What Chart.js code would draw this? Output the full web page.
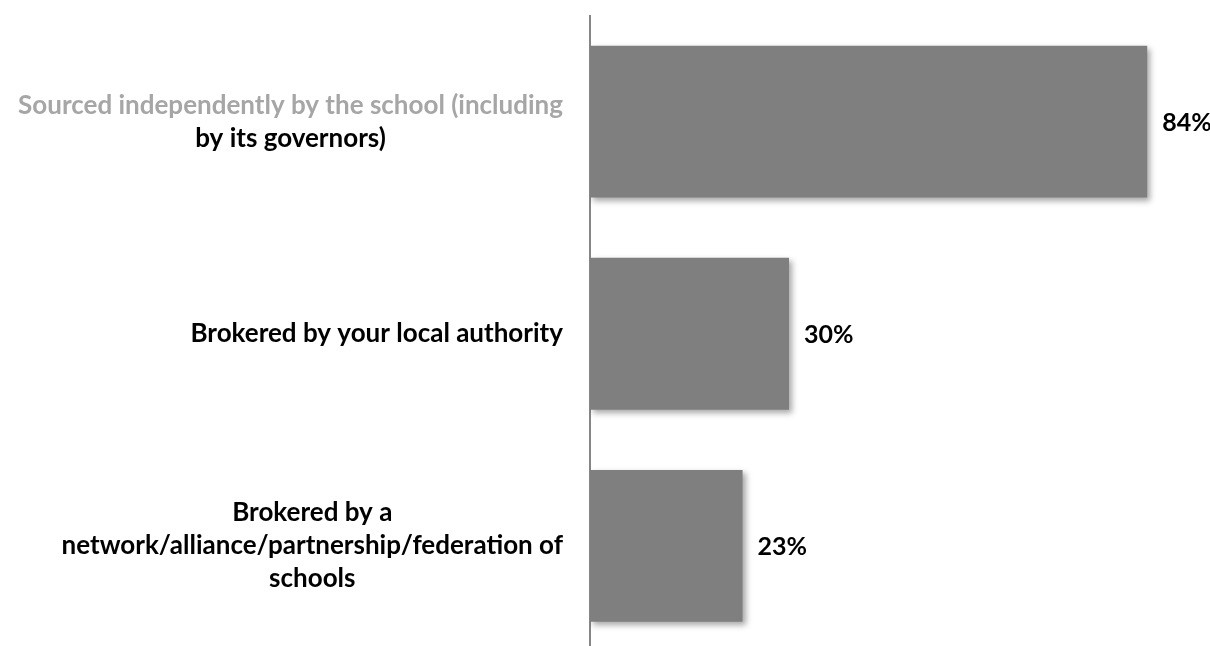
<!DOCTYPE html>
<html>
<head>
<meta charset="utf-8">
<script src="https://cdn.jsdelivr.net/npm/chart.js@4/dist/chart.umd.min.js"></script>
<style>
  html, body { margin: 0; padding: 0; background: #fff; overflow: hidden; }
  /* the plot runs a few pixels past the bottom of the window */
  #wrap { width: 1210px; height: 652px; }
</style>
</head>
<body>
<div id="wrap"><canvas id="c"></canvas></div>
<script>
// categories, one array of lines per bar
const categories = [
  ["Sourced independently by the school (including", "by its governors)"],
  ["Brokered by your local authority"],
  ["Brokered by a", "network/alliance/partnership/federation of", "schools"],
];
const values = [84, 30, 23];

const FONT = "Lato";
const barColor = "#7f7f7f";
const axisColor = "#868686";
const labelFont = "bold 26px " + FONT;
const lineGap = 33;      // distance between label lines
const labelRight = 563;  // right edge of the label boxes

const shadowPlugin = {
  id: "barShadow",
  beforeDatasetsDraw(chart) {
    const ctx = chart.ctx;
    ctx.save();
    ctx.shadowColor = "rgba(0,0,0,0.35)";
    ctx.shadowBlur = 6;
    ctx.shadowOffsetX = 3;
    ctx.shadowOffsetY = 3;
  },
  afterDatasetsDraw(chart) {
    chart.ctx.restore();
  },
};

// category labels: each block is as wide as its longest line, sits against
// the axis, and its lines are centred inside it
const categoryLabels = {
  id: "categoryLabels",
  afterDraw(chart) {
    const ctx = chart.ctx;
    const yScale = chart.scales.y;
    ctx.save();
    ctx.font = labelFont;
    ctx.textAlign = "center";
    ctx.textBaseline = "alphabetic";
    categories.forEach((lines, i) => {
      const yc = yScale.getPixelForTick(i);
      const widths = lines.map((l) => ctx.measureText(l).width);
      const maxW = Math.max(...widths);
      const cx = labelRight - maxW / 2;
      lines.forEach((line, j) => {
        const y = yc + 8.5 + (j - (lines.length - 1) / 2) * lineGap;
        // lead line of the first category is printed in light grey
        ctx.fillStyle = i === 0 && j === 0 ? "#a6a6a6" : "#000";
        ctx.fillText(line, cx, y);
      });
    });
    ctx.restore();
  },
};

const valueLabels = {
  id: "valueLabels",
  afterDatasetsDraw(chart) {
    const ctx = chart.ctx;
    const meta = chart.getDatasetMeta(0);
    ctx.save();
    ctx.font = "bold 25px " + FONT;
    ctx.fillStyle = "#000";
    ctx.textAlign = "left";
    ctx.textBaseline = "middle";
    meta.data.forEach((bar, i) => {
      ctx.fillText(values[i] + "%", bar.x + 15, bar.y + 1);
    });
    ctx.restore();
  },
};

new Chart(document.getElementById("c"), {
  type: "bar",
  data: {
    labels: categories,
    datasets: [
      {
        data: values,
        backgroundColor: barColor,
        borderWidth: 0,
        categoryPercentage: 1,
        barPercentage: 0.716,
      },
    ],
  },
  options: {
    indexAxis: "y",
    responsive: true,
    maintainAspectRatio: false,
    animation: false,
    layout: { padding: { top: 15.5, bottom: 0, left: 0, right: 23 } },
    plugins: {
      legend: { display: false },
      tooltip: { enabled: false },
    },
    scales: {
      x: {
        display: false,
        min: 0,
        max: 90,
      },
      y: {
        afterFit(scale) {
          scale.width = 590;
          scale.paddingTop = 0;
          scale.paddingBottom = 0;
        },
        grid: { display: false, drawTicks: false },
        border: { display: true, color: axisColor, width: 2 },
        ticks: { display: false },
      },
    },
  },
  plugins: [shadowPlugin, valueLabels, categoryLabels],
});
</script>
</body>
</html>
